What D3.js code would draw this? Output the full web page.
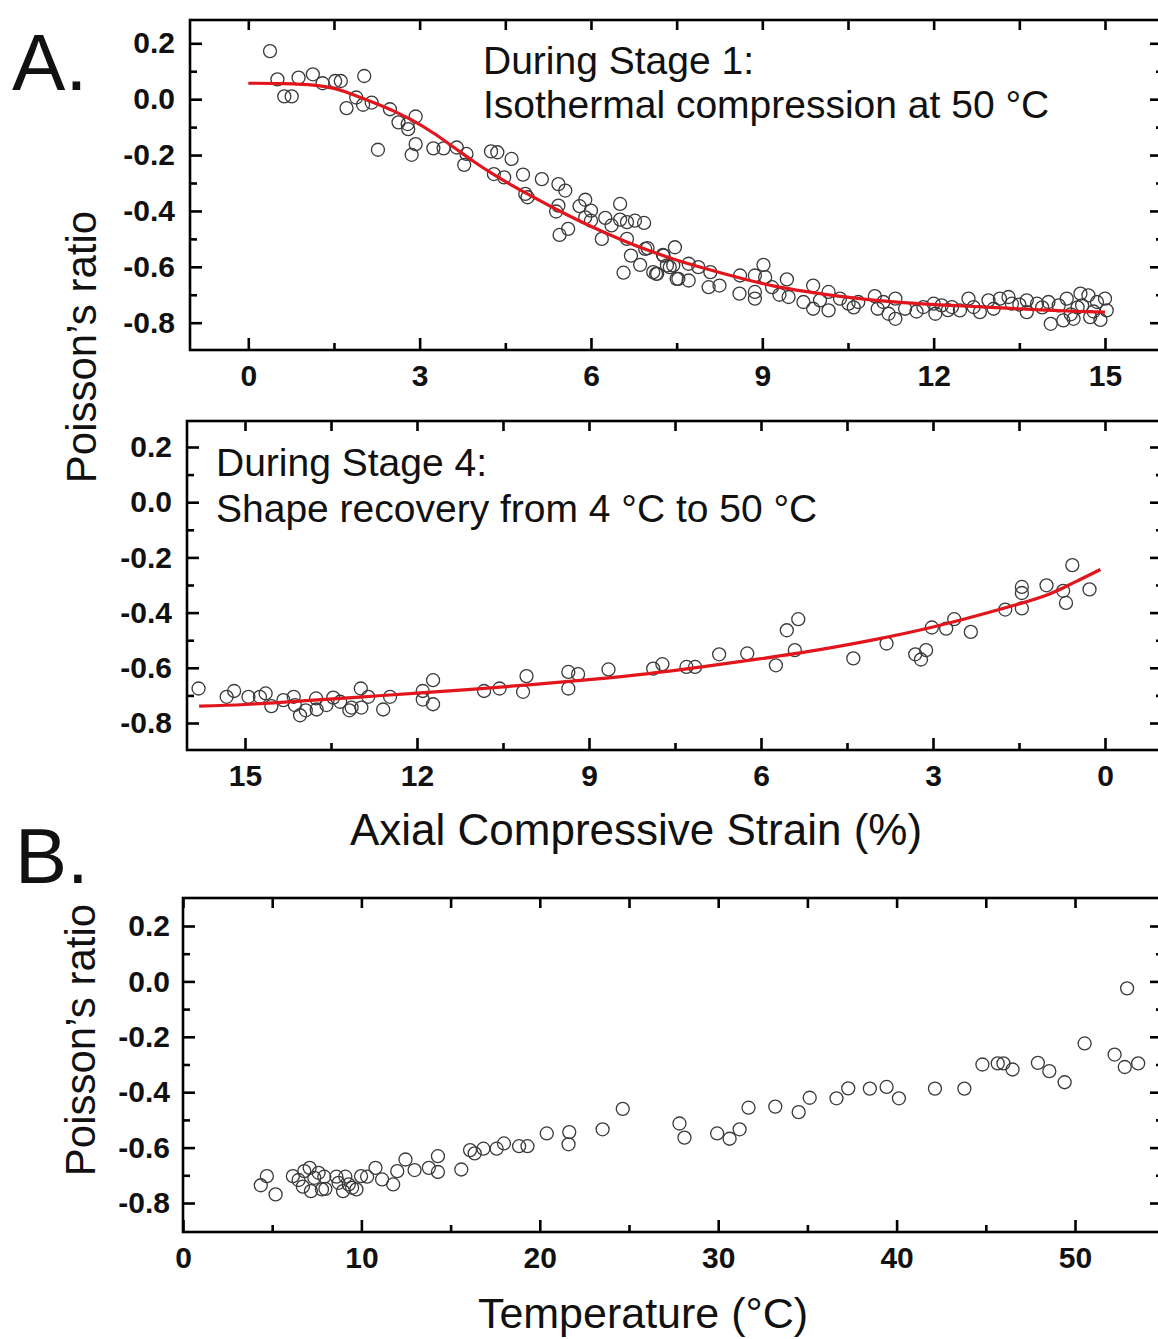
<!DOCTYPE html>
<html><head><meta charset="utf-8">
<script src="https://cdn.jsdelivr.net/npm/d3@7"></script>
<style>
body{margin:0;background:#fff;overflow:hidden}
svg{display:block}
text{font-family:"Liberation Sans",Arial,Helvetica,sans-serif;fill:#111}
</style>
</head><body>
<svg id="chart" width="1158" height="1339"></svg>
<script>
// ---------------- DATA ----------------
// Panel A (top): Stage 1, isothermal compression at 50 °C
const stage1Strain = [0.38,0.51,0.63,0.76,0.88,1.13,1.30,1.52,1.62,1.72,1.89,2.03,2.01,2.16,2.27,2.48,2.63,2.80,2.79,2.93,2.93,2.86,3.24,3.42,3.65,3.82,3.78,4.25,4.36,4.61,4.30,4.48,4.81,5.14,4.85,4.89,5.43,5.55,5.43,5.39,5.45,5.60,5.80,5.90,6.00,5.90,6.00,6.19,6.25,6.36,6.51,6.51,6.63,6.77,6.93,6.63,6.70,6.57,6.86,6.99,7.09,7.16,7.26,7.38,7.47,7.50,
  6.95,7.14,7.27,7.33,7.44,7.53,7.71,7.71,7.88,8.09,8.06,8.25,8.61,8.60,8.87,8.87,8.87,9.02,9.05,9.17,9.43,9.46,9.72,9.89,9.89,10.01,10.16,10.16,10.36,10.51,10.68,10.97,11.02,11.12,11.21,11.33,11.33,11.50,11.82,12.00,12.03,12.14,12.32,12.46,12.61,12.70,12.81,12.96,13.05,13.16,13.31,13.37,13.63,13.63,13.81,14.01,14.05,14.19,14.27,14.33,14.45,14.57,14.60,14.71,14.74,14.86,15.00,15.03,
  9.30,10.60,11.70,12.25,13.50,13.90,14.40,14.52,14.92,14.80];
const stage1Ratio = [0.172,0.071,0.010,0.010,0.077,0.089,0.057,0.065,0.065,-0.032,0.006,0.083,-0.020,-0.012,-0.181,-0.036,-0.083,-0.107,-0.089,-0.062,-0.161,-0.199,-0.176,-0.176,-0.173,-0.196,-0.235,-0.187,-0.190,-0.214,-0.268,-0.280,-0.270,-0.286,-0.339,-0.351,-0.304,-0.327,-0.381,-0.402,-0.486,-0.464,-0.383,-0.360,-0.399,-0.423,-0.435,-0.500,-0.425,-0.452,-0.375,-0.431,-0.440,-0.435,-0.443,-0.500,-0.560,-0.621,-0.593,-0.533,-0.619,-0.625,-0.557,-0.601,-0.530,-0.643,
  -0.536,-0.625,-0.560,-0.595,-0.595,-0.643,-0.589,-0.649,-0.601,-0.619,-0.673,-0.667,-0.631,-0.696,-0.631,-0.714,-0.690,-0.593,-0.637,-0.673,-0.645,-0.708,-0.726,-0.667,-0.750,-0.720,-0.690,-0.756,-0.714,-0.732,-0.726,-0.705,-0.750,-0.726,-0.768,-0.714,-0.786,-0.750,-0.744,-0.732,-0.768,-0.738,-0.744,-0.756,-0.714,-0.744,-0.762,-0.720,-0.750,-0.714,-0.708,-0.732,-0.720,-0.762,-0.732,-0.726,-0.804,-0.738,-0.792,-0.714,-0.786,-0.696,-0.738,-0.702,-0.780,-0.726,-0.714,-0.756,
  -0.700,-0.745,-0.760,-0.755,-0.735,-0.745,-0.770,-0.745,-0.790,-0.760];
const stage1FitStrain = [0,0.55,1.14,1.55,1.84,2.19,2.54,2.89,3.24,3.59,3.94,4.30,4.64,4.99,5.40,5.81,6.16,6.51,6.86,7.44,8.03,8.61,9.19,9.78,10.36,10.95,11.53,12.11,12.70,13.28,13.86,14.45,15.0];
const stage1FitRatio  = [0.057,0.056,0.050,0.036,0.016,-0.012,-0.042,-0.078,-0.121,-0.171,-0.222,-0.270,-0.311,-0.350,-0.395,-0.437,-0.470,-0.501,-0.530,-0.572,-0.608,-0.640,-0.668,-0.689,-0.706,-0.719,-0.729,-0.736,-0.742,-0.748,-0.754,-0.759,-0.762];

// Panel A (middle): Stage 4, shape recovery from 4 °C to 50 °C (strain axis reversed)
const stage4Strain = [15.81,15.32,15.19,14.94,14.74,14.64,14.54,14.33,14.15,14.13,14.04,13.94,13.76,13.75,13.58,13.46,13.34,13.18,13.14,12.98,12.97,12.85,12.59,12.47,11.90,11.90,11.72,11.72,10.83,10.56,10.15,10.09,9.36,9.36,9.19,8.66,7.88,7.72,7.30,7.15,6.73,6.24,5.74,5.55,5.35,5.41,4.39,3.81,3.31,3.21,3.12,3.02,2.77,2.63,2.34,1.74,1.45,1.45,1.45,1.02,0.73,0.68,0.57,0.27];
const stage4Ratio  = [-0.675,-0.705,-0.684,-0.705,-0.705,-0.693,-0.739,-0.717,-0.705,-0.735,-0.772,-0.754,-0.711,-0.751,-0.735,-0.708,-0.723,-0.754,-0.744,-0.675,-0.744,-0.705,-0.751,-0.705,-0.684,-0.715,-0.645,-0.732,-0.684,-0.675,-0.687,-0.630,-0.615,-0.675,-0.623,-0.606,-0.603,-0.587,-0.597,-0.597,-0.551,-0.548,-0.591,-0.464,-0.424,-0.536,-0.566,-0.512,-0.551,-0.570,-0.536,-0.454,-0.458,-0.424,-0.470,-0.389,-0.307,-0.329,-0.385,-0.301,-0.321,-0.365,-0.228,-0.316];
const stage4FitStrain = [15.8,15,14,13,12,11,10,9,8,7,6,5,4,3,2,1,0.5,0.08];
const stage4FitRatio  = [-0.739,-0.733,-0.720,-0.706,-0.692,-0.677,-0.661,-0.643,-0.622,-0.596,-0.567,-0.535,-0.497,-0.452,-0.398,-0.335,-0.287,-0.244];

// Panel B: Poisson's ratio vs temperature
const tempC = [4.36,4.70,5.19,6.16,6.48,6.72,6.80,7.10,7.17,7.36,7.60,7.79,7.98,7.92,8.60,8.72,8.97,9.10,9.29,9.48,9.72,9.98,10.32,10.79,11.16,11.78,12.01,12.47,12.98,13.78,14.29,14.29,15.60,16.09,16.35,16.84,17.58,17.99,18.84,19.31,20.39,21.65,21.61,23.52,24.65,27.83,28.11,29.94,30.64,31.20,31.70,33.20,34.51,35.13,36.63,37.29,38.50,39.44,40.13,42.15,43.80,44.81,45.67,45.99,46.50,47.92,48.56,49.42,50.54,52.22,52.92,52.79,53.54];
const tempRatio = [-0.736,-0.703,-0.769,-0.703,-0.717,-0.741,-0.685,-0.673,-0.757,-0.709,-0.691,-0.751,-0.749,-0.705,-0.705,-0.727,-0.757,-0.705,-0.733,-0.745,-0.751,-0.703,-0.705,-0.673,-0.715,-0.733,-0.685,-0.643,-0.681,-0.673,-0.631,-0.688,-0.679,-0.609,-0.621,-0.604,-0.604,-0.585,-0.595,-0.595,-0.549,-0.544,-0.588,-0.534,-0.460,-0.513,-0.564,-0.549,-0.568,-0.534,-0.456,-0.452,-0.472,-0.420,-0.422,-0.386,-0.387,-0.381,-0.422,-0.387,-0.387,-0.300,-0.296,-0.296,-0.318,-0.294,-0.324,-0.364,-0.224,-0.264,-0.025,-0.309,-0.296];

// Ticks and labels
const strainTicks = [0,3,6,9,12,15];
const strainMinor = [1.5,4.5,7.5,10.5,13.5];
const tempTicks = [0,10,20,30,40,50];
const tempMinor = [5,15,25,35,45];
const ratioTicks = [0.2,0.0,-0.2,-0.4,-0.6,-0.8];
const ratioMinor = [0.1,-0.1,-0.3,-0.5,-0.7];
const ratioLabels = ["0.2","0.0","-0.2","-0.4","-0.6","-0.8"];

// ---------------- DRAW ----------------
const svg = d3.select("#chart");
const RED = "#e2151d";
const RIGHT = 1162;

function fmtRatio(d){ return ratioLabels[ratioTicks.findIndex(t => Math.abs(t-d) < 1e-9)]; }

function panel(o){
  const x = d3.scaleLinear().domain(o.xDom).range(o.xRange);
  const y = d3.scaleLinear().domain([-0.8,0.2]).range(o.yRange);
  const g = svg.append("g");

  const styleAxis = sel => {
    sel.select(".domain").remove();
    sel.selectAll(".tick line").attr("stroke","#000").attr("stroke-width",2.6);
    sel.selectAll(".tick text").attr("font-size",30).attr("font-weight","bold")
      .attr("font-family","'Liberation Sans',Arial,sans-serif").attr("fill","#111");
  };

  // bottom
  g.append("g").attr("transform",`translate(0,${o.b})`)
    .call(d3.axisBottom(x).tickValues(o.xTicks).tickSize(-12).tickPadding(15).tickFormat(d3.format("d"))).call(styleAxis);
  g.append("g").attr("transform",`translate(0,${o.b})`)
    .call(d3.axisBottom(x).tickValues(o.xMinor).tickSize(-7).tickFormat("")).call(styleAxis);
  // top
  g.append("g").attr("transform",`translate(0,${o.t})`)
    .call(d3.axisTop(x).tickValues(o.xTicks.concat(o.xMinor)).tickSize(-10).tickFormat("")).call(styleAxis);
  // left
  g.append("g").attr("transform",`translate(${o.l},0)`)
    .call(d3.axisLeft(y).tickValues(ratioTicks).tickSize(-12).tickPadding(o.yPad).tickFormat(fmtRatio)).call(styleAxis);
  g.append("g").attr("transform",`translate(${o.l},0)`)
    .call(d3.axisLeft(y).tickValues(ratioMinor).tickSize(-7).tickFormat("")).call(styleAxis);
  // right
  g.append("g").attr("transform",`translate(${RIGHT},0)`)
    .call(d3.axisRight(y).tickValues(ratioTicks).tickSize(-12).tickFormat("")).call(styleAxis);
  g.append("g").attr("transform",`translate(${RIGHT},0)`)
    .call(d3.axisRight(y).tickValues(ratioMinor).tickSize(-6).tickFormat("")).call(styleAxis);

  // frame
  g.append("rect").attr("x",o.l).attr("y",o.t).attr("width",RIGHT-o.l).attr("height",o.b-o.t)
    .attr("fill","none").attr("stroke","#000").attr("stroke-width",2.6);

  // points
  g.append("g").selectAll("circle").data(o.px.map((v,i)=>[v,o.py[i]])).join("circle")
    .attr("cx",d=>x(d[0])).attr("cy",d=>y(d[1])).attr("r",6.5)
    .attr("fill","none").attr("stroke","#3a3a3a").attr("stroke-width",1.3);

  // fit
  if(o.fx){
    const line = d3.line().x(d=>x(d[0])).y(d=>y(d[1])).curve(d3.curveCatmullRom.alpha(0.5));
    g.append("path").datum(o.fx.map((v,i)=>[v,o.fy[i]])).attr("d",line)
      .attr("fill","none").attr("stroke",RED).attr("stroke-width",3.2);
  }
  return g;
}

panel({xDom:[0,15], xRange:[248.3,1105], yRange:[322.7,43.3], l:190, t:20, b:350, yPad:15,
  xTicks:strainTicks, xMinor:strainMinor, px:stage1Strain, py:stage1Ratio, fx:stage1FitStrain, fy:stage1FitRatio});
panel({xDom:[15,0], xRange:[245,1105], yRange:[723,447], l:187, t:421, b:750, yPad:15,
  xTicks:strainTicks, xMinor:strainMinor, px:stage4Strain, py:stage4Ratio, fx:stage4FitStrain, fy:stage4FitRatio});
panel({xDom:[0,50], xRange:[183,1075], yRange:[1203,926], l:183, t:898, b:1232, yPad:13,
  xTicks:tempTicks, xMinor:tempMinor, px:tempC, py:tempRatio});

// texts
const T = (x,y,s,size,extra={}) => {
  const t = svg.append("text").attr("x",x).attr("y",y).attr("font-size",size).text(s);
  Object.entries(extra).forEach(([k,v])=>t.attr(k,v));
  return t;
};
T(12,90,"A.",80);
T(15,883,"B.",78);
T(483,74,"During Stage 1:",39);
T(483,118,"Isothermal compression at 50 °C",39);
T(216,476,"During Stage 4:",39);
T(216,522,"Shape recovery from 4 °C to 50 °C",39);
T(636,845,"Axial Compressive Strain (%)",44,{"text-anchor":"middle"});
T(643,1328,"Temperature (°C)",43,{"text-anchor":"middle"});
T(0,0,"Poisson’s ratio",42,{"text-anchor":"middle","transform":"translate(96,347) rotate(-90)"});
T(0,0,"Poisson’s ratio",42,{"text-anchor":"middle","transform":"translate(95,1040) rotate(-90)"});
</script>
</body></html>
